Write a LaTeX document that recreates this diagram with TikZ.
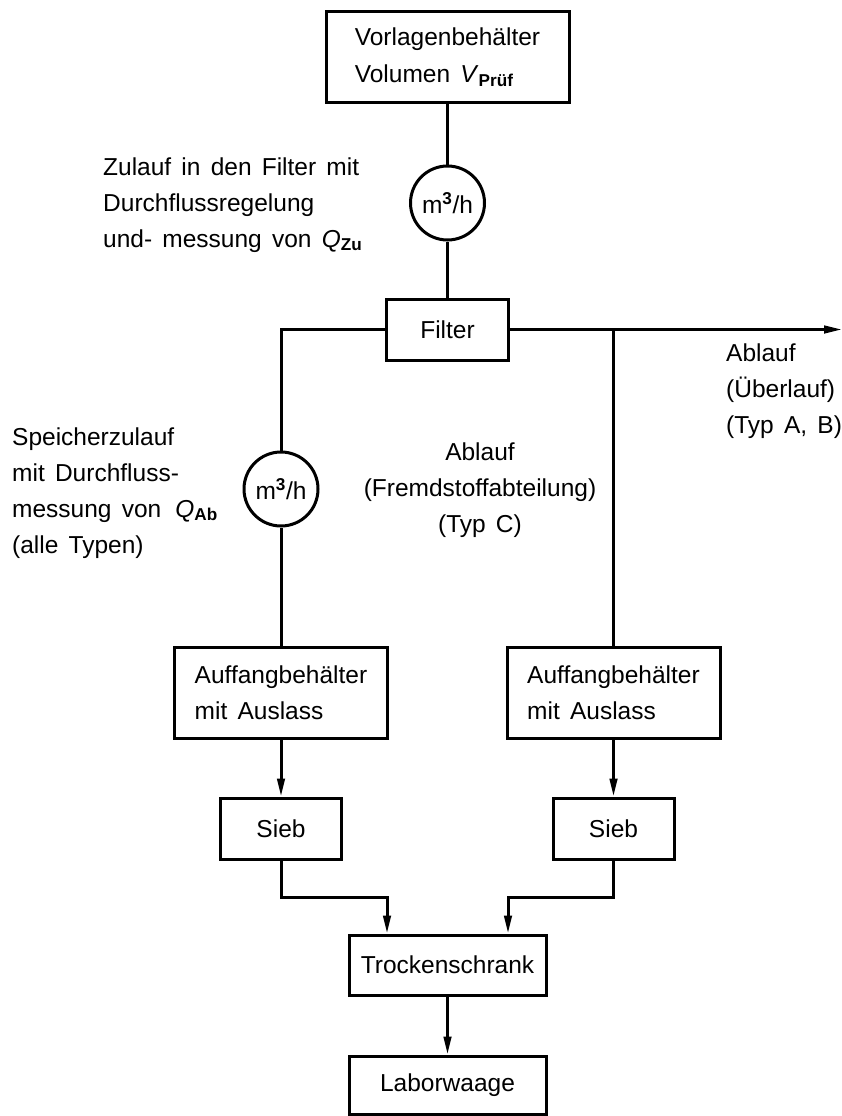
\documentclass[tikz,border=0pt]{standalone}
\usepackage{fontspec}
\setmainfont{Liberation Sans}[WordSpace=1.5]
\usetikzlibrary{arrows.meta}

\begin{document}
\begin{tikzpicture}[x=1pt,y=-1pt,
  font=\fontsize{24.5}{36}\selectfont,
  box/.style={draw,line width=3pt,inner sep=0pt,align=left},
  meter/.style={draw,circle,line width=3pt,minimum size=74pt,inner sep=0pt},
  note/.style={anchor=base west,align=left,inner sep=0pt},
  pipe/.style={line width=3pt},
  flow/.style={pipe,-{Triangle[length=18pt,width=7.5pt]}}]
  \useasboundingbox (0,0) rectangle (842,1116);
  % Supply, meter and filter
  \node[box,minimum width=243pt,minimum height=90pt] (vorlage) at (447.5,57)
    {Vorlagenbeh\"alter\\[1pt]Volumen \textit{V}\textsubscript{\textbf{Pr\"uf}}};
  \node[meter] (meterZu) at (447.5,203) {m\textsuperscript{\textbf{3}}/h};
  \node[box,minimum width=122pt,minimum height=61pt] (filter) at (447.5,329.5) {Filter};
  \draw[pipe] (vorlage.south) -- (meterZu.north);
  \draw[pipe] (meterZu.south) -- (filter.north);
  % Left branch: storage inflow
  \node[meter] (meterAb) at (281,489) {m\textsuperscript{\textbf{3}}/h};
  \node[box,minimum width=213pt,minimum height=91pt] (auffL) at (281,692.5)
    {Auffangbeh\"alter\\mit Auslass};
  \node[box,minimum width=121pt,minimum height=61pt] (siebL) at (281,828.5) {Sieb};
  \coordinate (jl) at (281,329.5);
  \draw[pipe] (filter.west) -- (jl) -- (meterAb.north);
  \draw[pipe] (meterAb.south) -- (auffL.north);
  \draw[flow] (auffL.south) -- (siebL.north);
  % Right branch: outflow
  \node[box,minimum width=213pt,minimum height=91pt] (auffR) at (613.5,692.5)
    {Auffangbeh\"alter\\mit Auslass};
  \node[box,minimum width=121pt,minimum height=61pt] (siebR) at (613.5,828.5) {Sieb};
  \coordinate (jr) at (613.5,329.5);
  \coordinate (out) at (842,329.5);
  \draw[flow] (filter.east) -- (out);
  \draw[pipe] (jr) -- (auffR.north);
  \draw[flow] (auffR.south) -- (siebR.north);
  % Drying and weighing
  \node[box,minimum width=197pt,minimum height=60pt] (trocken) at (447.5,965) {Trockenschrank};
  \node[box,minimum width=197pt,minimum height=58pt] (labor) at (447.5,1085) {Laborwaage};
  \coordinate (inL) at (387,897);
  \coordinate (inR) at (508,897);
  \draw[flow] (siebL.south) |- (inL) -- (inL |- trocken.north);
  \draw[flow] (siebR.south) |- (inR) -- (inR |- trocken.north);
  \draw[flow] (trocken.south) -- (labor.north);
  % Labels (base = last line)
  \node[note] (zulauf) at (103,247)
    {Zulauf in den Filter mit\\Durchflussregelung\\und- messung von \textit{Q}\textsubscript{\textbf{Zu}}};
  \node[note] (speicher) at (12,553)
    {Speicherzulauf\\mit Durchfluss-\\messung von\hspace{14pt}\textit{Q}\textsubscript{\textbf{Ab}}\\(alle Typen)};
  \node[note,anchor=base,align=center] (ablaufC) at (480,532)
    {Ablauf\\(Fremdstoffabteilung)\\(Typ C)};
  \node[note] (ablaufAB) at (726,433)
    {Ablauf\\(\"Uberlauf)\\(Typ A, B)};
\end{tikzpicture}
\end{document}
